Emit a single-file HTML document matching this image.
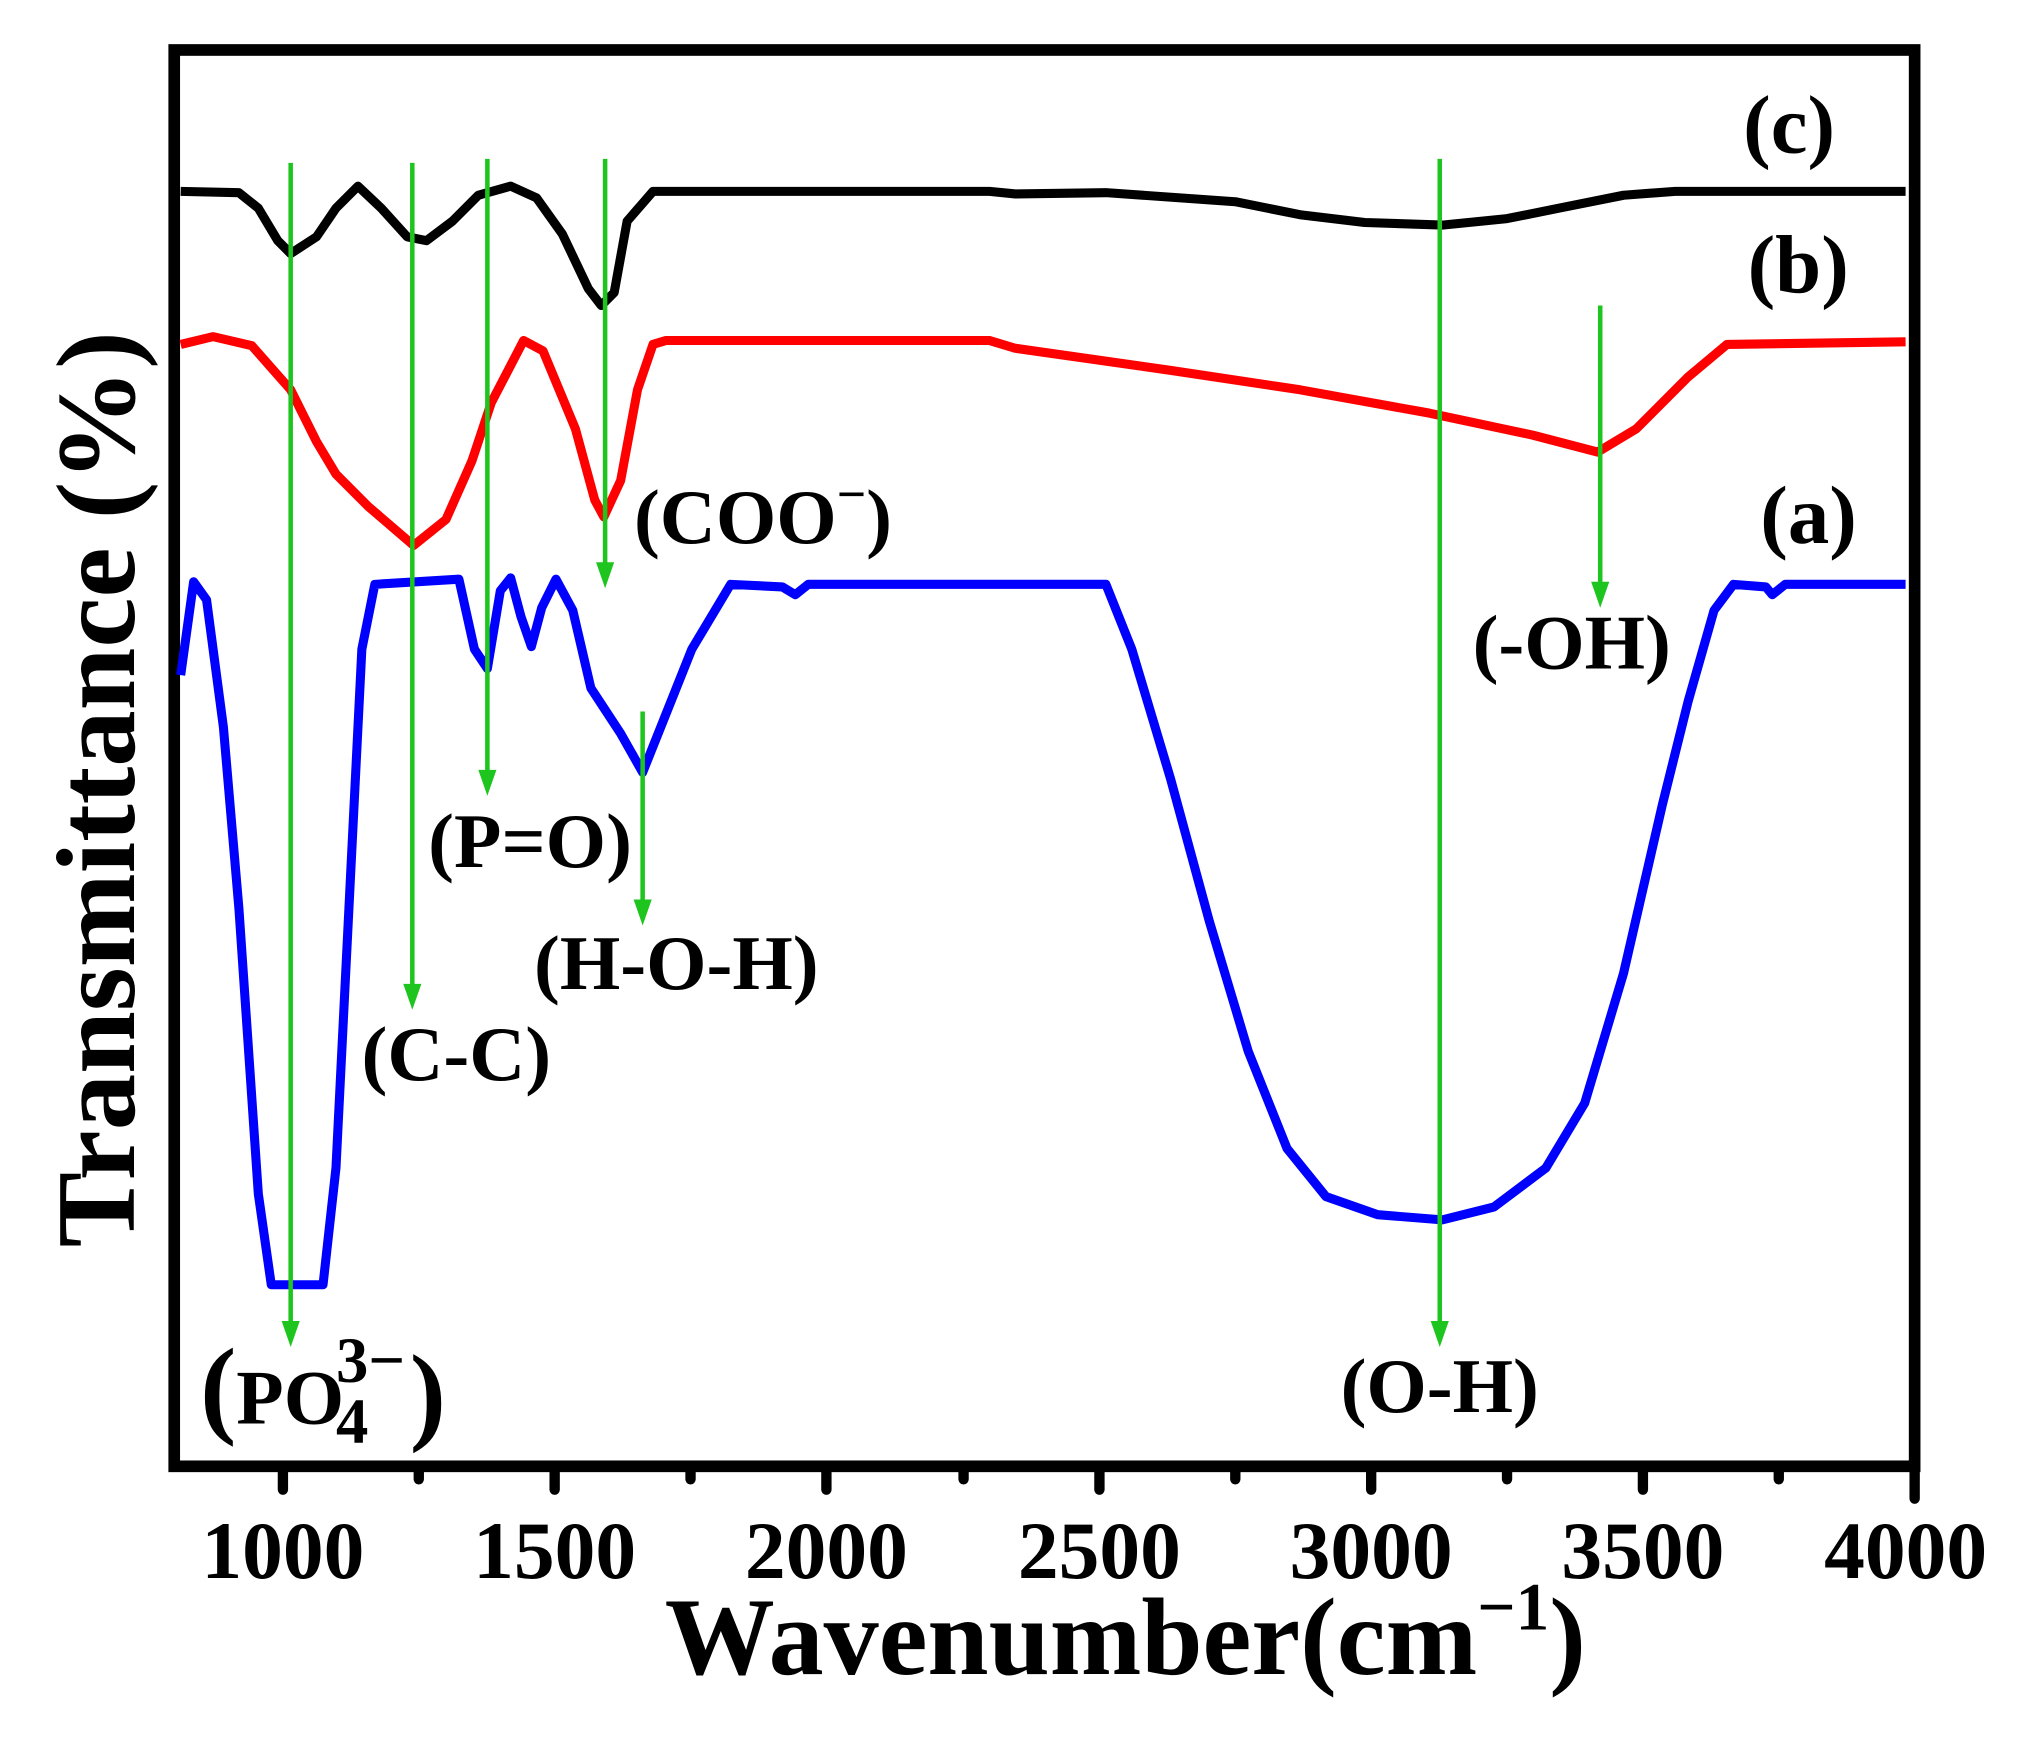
<!DOCTYPE html>
<html><head><meta charset="utf-8"><style>
html,body{margin:0;padding:0;background:#fff;}
svg{display:block;}
text{font-family:"Liberation Serif",serif;fill:#000;}
</style></head><body>
<svg width="2037" height="1743" viewBox="0 0 2037 1743" xmlns="http://www.w3.org/2000/svg">
<g transform="translate(6,0.7) scale(1.294,1.297)">
<rect x="130" y="38" width="1345" height="1092" fill="none" stroke="#000" stroke-width="9"/>
<g stroke="#000" stroke-width="8" stroke-linecap="round">
<line x1="214" y1="1130" x2="214" y2="1148"/><line x1="424" y1="1130" x2="424" y2="1148"/>
<line x1="634" y1="1130" x2="634" y2="1148"/><line x1="845" y1="1130" x2="845" y2="1148"/>
<line x1="1055" y1="1130" x2="1055" y2="1148"/><line x1="1265" y1="1130" x2="1265" y2="1148"/>
<line x1="1475" y1="1130" x2="1475" y2="1155"/>
<line x1="319" y1="1130" x2="319" y2="1140"/><line x1="529" y1="1130" x2="529" y2="1140"/>
<line x1="740" y1="1130" x2="740" y2="1140"/><line x1="950" y1="1130" x2="950" y2="1140"/>
<line x1="1160" y1="1130" x2="1160" y2="1140"/><line x1="1370" y1="1130" x2="1370" y2="1140"/>
</g>
<g font-size="63" font-weight="bold" text-anchor="middle">
<text x="214" y="1216">1000</text><text x="424" y="1216">1500</text><text x="634" y="1216">2000</text>
<text x="845" y="1216">2500</text><text x="1055" y="1216">3000</text><text x="1265" y="1216">3500</text>
<text x="1468" y="1216">4000</text>
</g>
<text x="865" y="1290" font-size="85" font-weight="bold" text-anchor="middle">Wavenumber(cm<tspan font-size="52" dy="-34">−1</tspan><tspan dy="34">)</tspan></text>
<text transform="translate(99,608) rotate(-90)" font-size="87" font-weight="bold" text-anchor="middle">Transmittance (%)</text>

<g fill="none" stroke-width="7" stroke-linejoin="round">
<polyline stroke="#000" points="135,147 180,148 195,160 210,185 220,195 240,182 255,160 272,143 290,160 310,182 325,185 345,170 365,150 390,143 410,152 430,180 450,222 460,235 470,225 480,170 500,147 760,147 780,149 850,148 950,155 1000,165 1050,171 1110,173 1160,168 1200,160 1250,150 1290,147 1468,147"/>
<polyline stroke="#f00" points="135,265 160,259 190,266 220,300 240,340 255,365 280,390 315,420 340,400 360,355 375,310 400,262 415,270 440,330 455,385 462,398 475,370 488,300 500,265 510,262 760,262 780,268 900,285 1000,300 1100,318 1180,335 1230,348 1260,330 1300,290 1330,265 1468,263"/>
<polyline stroke="#00f" points="135,520 145,448 155,462 168,560 180,700 195,920 205,990 245,990 255,900 265,700 275,500 285,450 350,446 362,500 372,515 382,455 390,445 398,475 406,498 414,468 425,446 438,470 452,530 475,565 492,595 510,550 530,500 560,450 600,452 610,458 620,450 850,450 870,500 900,600 930,710 960,810 990,885 1020,922 1060,936 1110,940 1150,930 1190,900 1220,850 1250,750 1280,620 1300,540 1320,470 1335,450 1360,452 1365,458 1375,450 1468,450"/>
</g>
<g stroke="#1ec51e" stroke-width="3.5" fill="#1ec51e">
<line x1="220" y1="125" x2="220" y2="1025"/><polygon points="213,1018 227,1018 220,1038" stroke="none"/>
<line x1="314" y1="125" x2="314" y2="765"/><polygon points="307,758 321,758 314,778" stroke="none"/>
<line x1="372" y1="122" x2="372" y2="600"/><polygon points="365,593 379,593 372,613" stroke="none"/>
<line x1="463" y1="122" x2="463" y2="440"/><polygon points="456,433 470,433 463,453" stroke="none"/>
<line x1="1108" y1="122" x2="1108" y2="1025"/><polygon points="1101,1018 1115,1018 1108,1038" stroke="none"/>
<line x1="1232" y1="235" x2="1232" y2="455"/><polygon points="1225,448 1239,448 1232,468" stroke="none"/>
<line x1="492" y1="548" x2="492" y2="700"/><polygon points="485,693 499,693 492,713" stroke="none"/>
</g>
<g font-size="64" font-weight="bold" text-anchor="middle">
<text x="1378" y="117">(c)</text><text x="1385" y="225">(b)</text><text x="1393" y="418">(a)</text>
</g>
<g font-size="60" text-anchor="middle" font-weight="bold">
<text x="585" y="418">(COO<tspan font-size="40" dy="-24">−</tspan><tspan dy="24">)</tspan></text>
<text x="1210" y="515">(-OH)</text>
<text x="405" y="668">(P=O)</text>
<text x="518" y="762">(H-O-H)</text>
<text x="348" y="832">(C-C)</text>
<text x="1108" y="1088">(O-H)</text>
</g>
<g font-size="60" font-weight="bold">
<text x="150" y="1097"><tspan font-size="84">(</tspan>PO</text>
<text x="255" y="1065" font-size="50">3−</text>
<text x="255" y="1112" font-size="50">4</text>
<text x="312" y="1102" font-size="84">)</text>
</g>
</g>
</svg>
</body></html>
